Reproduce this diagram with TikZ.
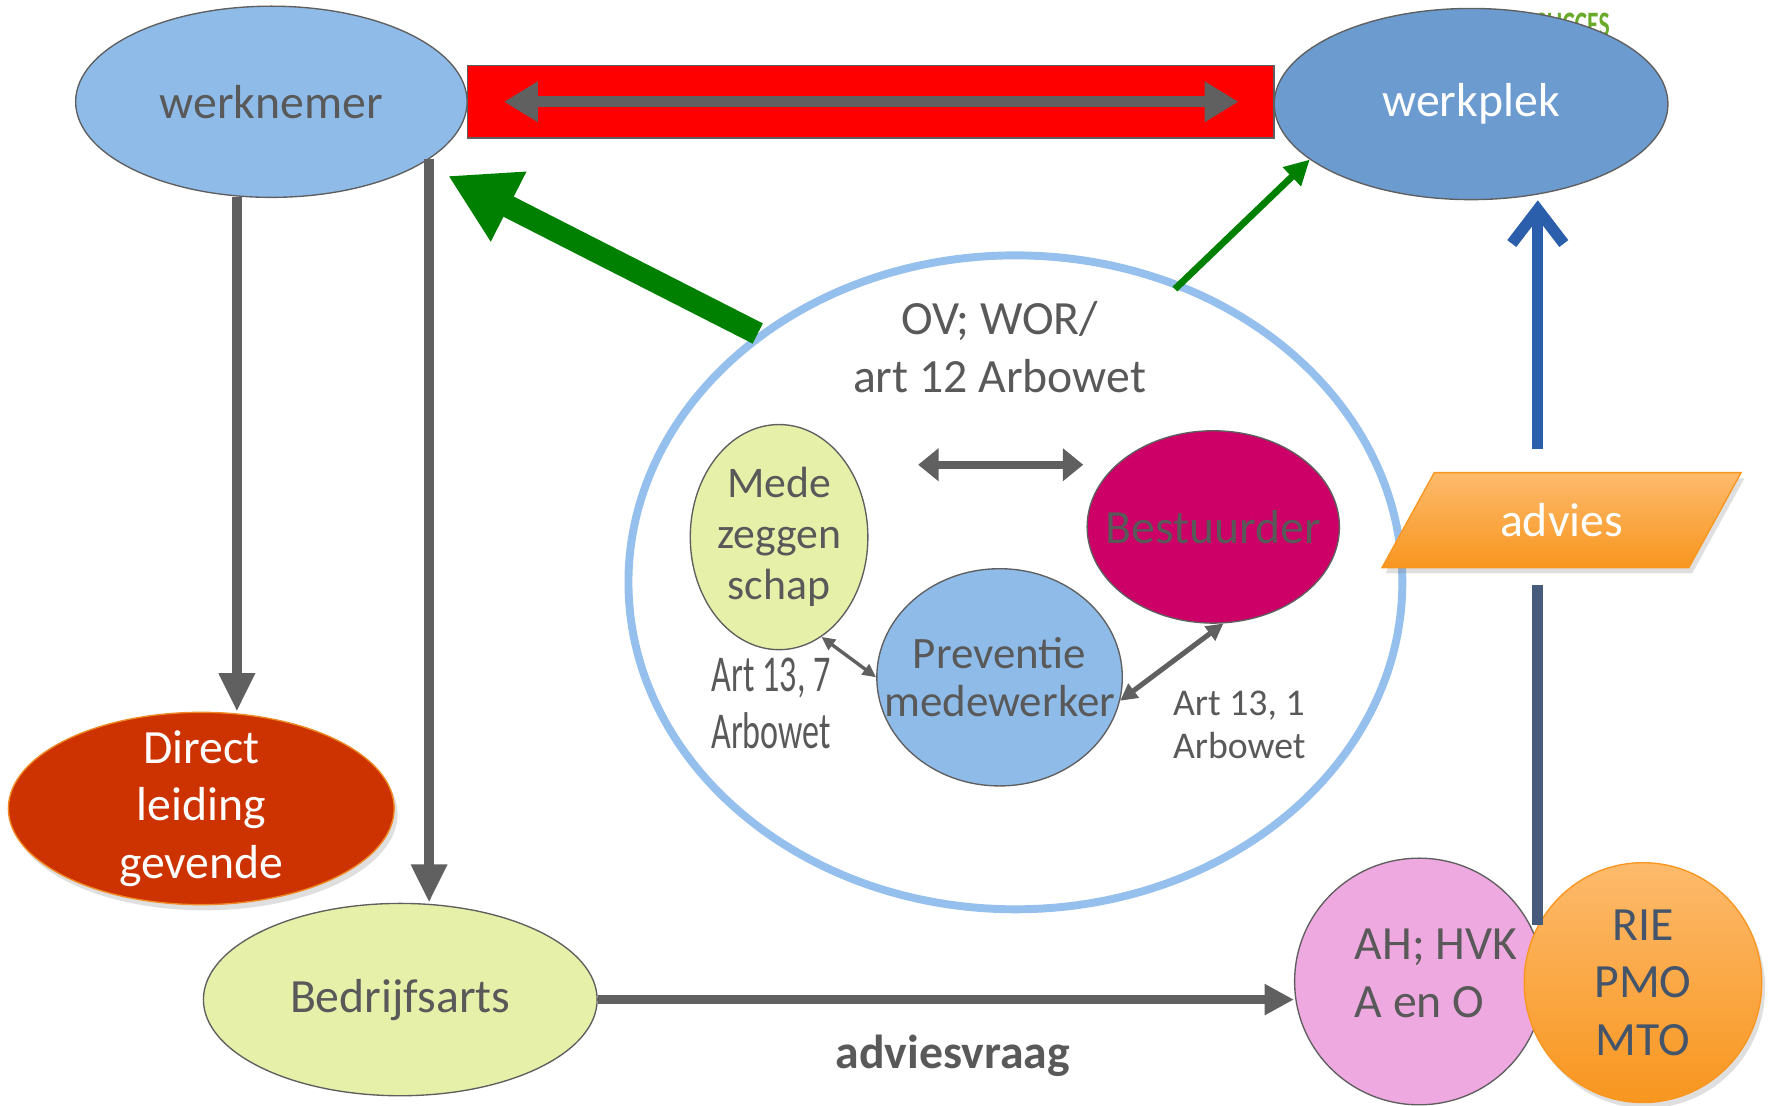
\documentclass[tikz,border=0pt]{standalone}
\usepackage{fontspec}
\setmainfont{Carlito}
\newfontfamily\narrowfont[FakeStretch=0.66]{Carlito}
\usetikzlibrary{arrows.meta,positioning,shapes.geometric,shadows}
\definecolor{txtgray}{HTML}{595959}
\definecolor{arrowgray}{HTML}{606060}
\definecolor{edgegray}{HTML}{5F5F5F}
\definecolor{lightblue}{HTML}{8FBBE9}
\definecolor{midblue}{HTML}{6C9BD0}
\definecolor{ringblue}{HTML}{95BFEC}
\definecolor{paleyellow}{HTML}{E6F0A9}
\definecolor{magenta}{HTML}{CC0066}
\definecolor{rust}{HTML}{CC3300}
\definecolor{rustedge}{HTML}{F08A24}
\definecolor{pinkfill}{HTML}{EFA9E1}
\definecolor{orangetop}{HTML}{FDBA6C}
\definecolor{orangebot}{HTML}{F8961F}
\definecolor{darkgreen}{HTML}{008000}
\definecolor{logogreen}{HTML}{6AAA2A}
\definecolor{arrowblue}{HTML}{2B5EAB}
\definecolor{slate}{HTML}{475B7C}
\definecolor{slatetext}{HTML}{44546A}
\tikzset{
	every node/.style = {font=\fontsize{12}{14.5}\selectfont, text=txtgray},
	bubble/.style = {ellipse, draw=edgegray, line width=0.012cm, inner sep=-0.3cm, align=center},
	orangefill/.style = {top color=orangetop, bottom color=orangebot, draw=orangebot, line width=0.012cm}
}

\begin{document}
\begin{tikzpicture}[x=0.01cm, y=-0.01cm,
	link/.style={draw=arrowgray, line width=0.09cm, -{Triangle[length=0.34cm,width=0.3cm]}},
	duo/.style={draw=arrowgray, line width=0.07cm, {Triangle[length=0.18cm,width=0.28cm]}-{Triangle[length=0.18cm,width=0.28cm]}},
	duosmall/.style={draw=arrowgray, line width=0.03cm, {Triangle[length=0.12cm,width=0.11cm]}-{Triangle[length=0.12cm,width=0.11cm]}},
	greenarrow/.style={draw=darkgreen, -{Triangle[length=0.6cm,width=0.65cm]}},
	stem/.style={draw=slate, line width=0.1cm}]
	\useasboundingbox (0,0) rectangle (1568,978);
	% top row
	\node (logo) [font=\narrowfont\bfseries\fontsize{9}{9}\selectfont, text=logogreen, anchor=east] at (1436,22) {SUCCES};
	\node (werknemer) [bubble, fill=lightblue, minimum width=3.46cm, minimum height=1.69cm] at (240,90) {werknemer};
	\node (werkplek) [bubble, fill=midblue, text=white, minimum width=3.48cm, minimum height=1.69cm] at (1301,92) {werkplek};
	\node (brug) [rectangle, fill=red, draw=edgegray, line width=0.012cm, minimum width=7.13cm, minimum height=0.64cm] at (770,90) {};
	\draw[duo, line width=0.1cm, {Triangle[length=0.3cm,width=0.34cm]}-{Triangle[length=0.3cm,width=0.34cm]}] ([xshift=0.33cm]brug.west) -- ([xshift=-0.32cm]brug.east);
	% overleg
	\node (ring) [ellipse, draw=ringblue, line width=0.07cm, minimum width=6.84cm, minimum height=5.78cm, inner sep=0pt] at (898,515) {};
	\node (ovwor) [below=0.32cm of ring.north, xshift=-0.14cm, align=center] {OV; WOR/\\art 12 Arbowet};
	\node (mede) [bubble, fill=paleyellow, minimum width=1.57cm, minimum height=1.99cm, font=\fontsize{11}{12.8}\selectfont] at (689,475) {Mede\\zeggen\\schap};
	\node (bestuurder) [bubble, fill=magenta, minimum width=2.23cm, minimum height=1.70cm] at (1073,466) {Bestuurder};
	\node (preventie) [bubble, fill=lightblue, minimum width=2.17cm, minimum height=1.92cm, font=\fontsize{11.3}{12}\selectfont] at (884,599) {Preventie\\medewerker};
	\coordinate (pl) at (812,411);
	\coordinate (pr) at (958,411);
	\draw[duo] (pl) -- (pr);
	\draw[duosmall] (mede.-67) -- (preventie.180);
	\draw[duosmall, line width=0.045cm, {Triangle[length=0.15cm,width=0.15cm]}-{Triangle[length=0.15cm,width=0.15cm]}] (preventie.-11) -- (bestuurder.-84);
	\node (art137) [font=\narrowfont\fontsize{13}{14.5}\selectfont, align=center] at (682,622) {Art 13, 7\\Arbowet};
	\node (art131) [font=\fontsize{9.5}{11}\selectfont, align=left, anchor=west] at (1025,641) {Art 13, 1\\Arbowet};
	% left column
	\node (direct) [bubble, fill=rust, draw=rustedge, text=white, minimum width=3.41cm, minimum height=1.70cm, drop shadow={opacity=0.25, shadow xshift=0.03cm, shadow yshift=-0.05cm}] at (178,715) {Direct\\leiding\\gevende};
	\node (arts) [bubble, fill=paleyellow, minimum width=3.48cm, minimum height=1.70cm] at (354,884) {Bedrijfsarts};
	\draw[link] (werknemer.-110) -- (werknemer.-110 |- direct.north);
	\draw[link] (werknemer.-20) -- (werknemer.-20 |- arts.north);
	% right column
	\node (advies) [trapezium, trapezium left angle=53, trapezium right angle=127, trapezium stretches=true, orangefill, text=white, minimum width=3.18cm, minimum height=0.84cm, inner sep=0pt, drop shadow={opacity=0.25, shadow xshift=0.03cm, shadow yshift=-0.05cm}] at (1381,460) {advies};
	\node (ah) [bubble, fill=pinkfill, minimum width=2.2cm, minimum height=2.18cm, align=left] at (1255,868) {\hspace*{0.3cm}AH; HVK\\\hspace*{0.3cm}A en O\rule[-0.15cm]{0pt}{0pt}};
	\node (rie) [bubble, orangefill, text=slatetext, minimum width=2.1cm, minimum height=2.12cm, drop shadow={opacity=0.25, shadow xshift=0.03cm, shadow yshift=-0.05cm}] at (1453,869) {RIE\\PMO\\MTO};
	\coordinate (stam) at (1360,818);
	\draw[stem, shorten >=0.15cm] (stam) -- (stam |- advies.south);
	\draw[draw=arrowblue, line width=0.1cm, shorten <=0.2cm, -{Straight Barb[length=0.3cm,width=0.46cm]}] (stam |- advies.north) -- (stam |- werkplek.south);
	\draw[link, line width=0.085cm, -{Triangle[length=0.26cm,width=0.26cm]}] (arts.east) -- node [below=0.15cm, xshift=0.06cm, font=\bfseries\fontsize{12}{14.5}\selectfont] (vraag) {adviesvraag} (arts.east -| ah.west);
	% groene pijlen
	\draw[greenarrow, line width=0.2cm, shorten >=0.25cm] (ring.136) -- (werknemer.-22);
	\draw[greenarrow, line width=0.06cm, shorten <=-0.08cm, -{Triangle[length=0.22cm,width=0.22cm]}] (ring.61) -- (werkplek.199);
\end{tikzpicture}
\end{document}
